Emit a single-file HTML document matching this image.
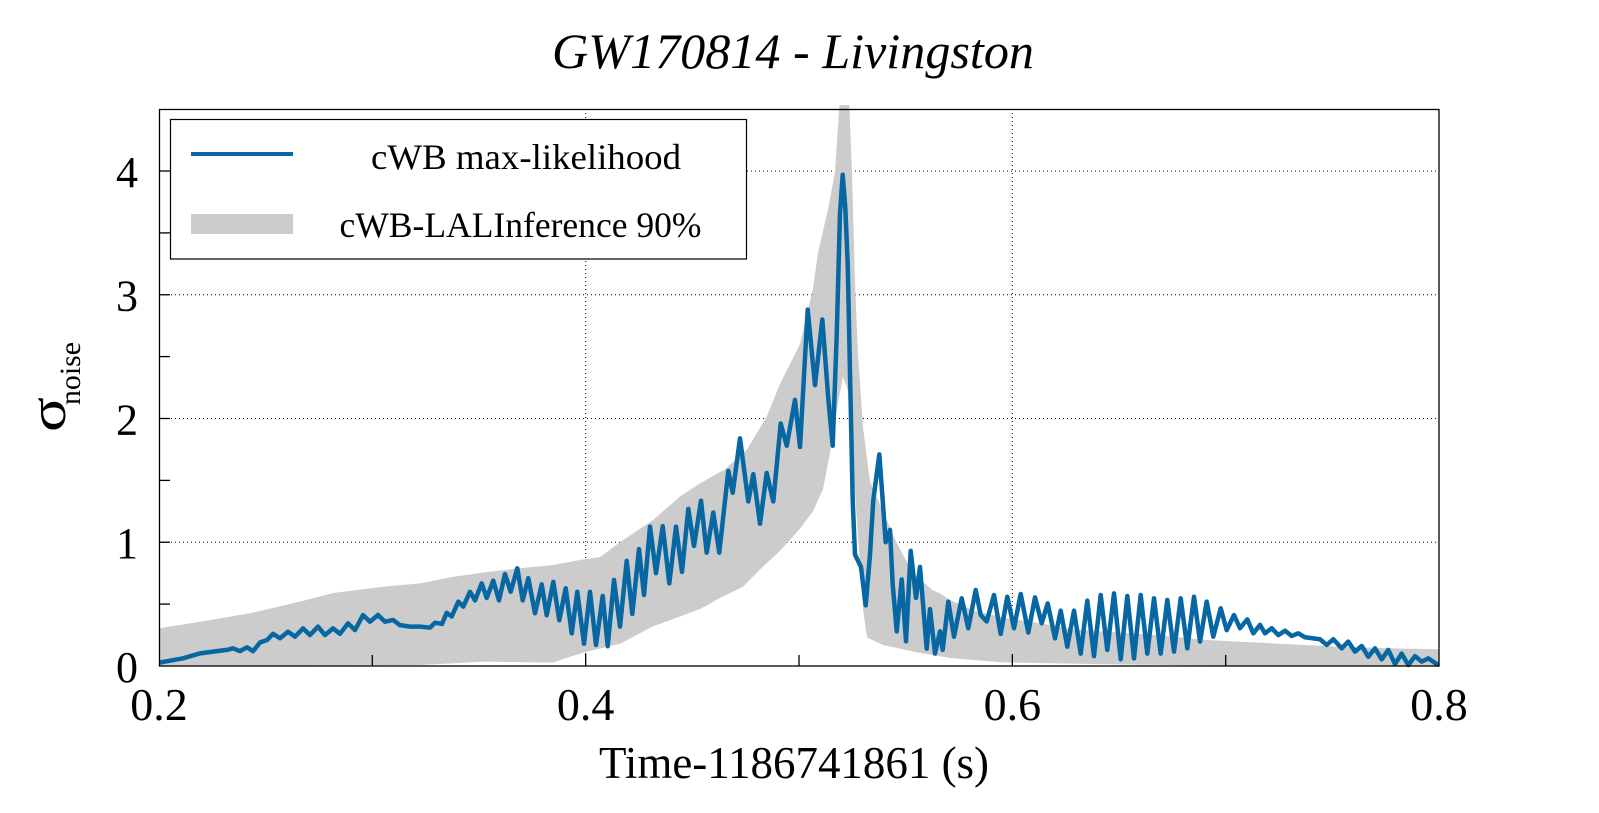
<!DOCTYPE html>
<html>
<head>
<meta charset="utf-8">
<style>
html,body{margin:0;padding:0;background:#fff;}
svg{display:block;}
text{font-family:"Liberation Serif","Times New Roman",serif;fill:#000;}
</style>
</head>
<body>
<svg width="1599" height="813" viewBox="0 0 1599 813" xmlns="http://www.w3.org/2000/svg">
<defs>
<clipPath id="c"><rect x="159" y="105" width="1280" height="563"/></clipPath>
</defs>
<rect x="0" y="0" width="1599" height="813" fill="#fff"/>

<!-- Title -->
<text x="552" y="68" font-size="50" font-style="italic" textLength="482" lengthAdjust="spacingAndGlyphs">GW170814 - Livingston</text>

<!-- grid -->
<g stroke="#000" stroke-width="1" stroke-dasharray="1 3" fill="none">
<line x1="159" y1="542.25" x2="1439" y2="542.25"/>
<line x1="159" y1="418.5" x2="1439" y2="418.5"/>
<line x1="159" y1="294.75" x2="1439" y2="294.75"/>
<line x1="159" y1="171" x2="1439" y2="171"/>
<line x1="585.67" y1="109" x2="585.67" y2="666"/>
<line x1="1012.33" y1="109" x2="1012.33" y2="666"/>
</g>

<g clip-path="url(#c)">
<g transform="matrix(1,0,0,-123.75,0,666)">
<polygon fill="#cccccc" stroke="none" points="159,0.305 200,0.358 250,0.426 300,0.52 333,0.59 383,0.64 420,0.668 453,0.72 487,0.76 520,0.79 553,0.816 580,0.857 600,0.88 620,1.0 653,1.18 680,1.37 700,1.476 725,1.59 747,1.75 767,2.02 780,2.28 800,2.6 813,3.05 818,3.34 828,3.69 835,3.99 840,4.6 849,4.6 852,3.99 855,3.1 858,2.52 863,1.93 870,1.49 883,1.25 897,0.99 913,0.75 933,0.61 940,0.587 950,0.533 973,0.45 1007,0.385 1040,0.345 1073,0.296 1107,0.277 1157,0.25 1207,0.21 1273,0.183 1340,0.156 1390,0.143 1439,0.135 1439,0 1200,0.005 1100,0.015 1000,0.03 950,0.065 917,0.11 883,0.17 867,0.23 863,0.46 858,1.05 853,1.64 848,2.22 843,2.34 837,2.08 830,1.72 823,1.43 813,1.25 800,1.11 780,0.93 760,0.78 743,0.64 720,0.55 700,0.46 680,0.4 653,0.32 620,0.18 587,0.116 570,0.075 553,0.027 487,0.035 420,0.008 159,0"/>
<polyline fill="none" stroke="#0767a3" stroke-width="4.5" stroke-linejoin="round" stroke-linecap="round" vector-effect="non-scaling-stroke" points="159.3,0.027 183,0.062 200,0.102 217,0.12 227,0.13 233,0.143 240,0.12 247,0.151 253,0.12 260,0.19 267,0.21 273,0.26 280,0.224 288,0.277 295,0.237 303,0.304 310,0.25 318,0.318 325,0.25 333,0.304 340,0.26 348,0.345 355,0.29 363,0.412 370,0.358 378,0.412 385,0.358 393,0.372 400,0.33 410,0.318 420,0.318 430,0.31 435,0.35 442,0.34 446.7,0.43 451.7,0.40 458.3,0.52 463.3,0.48 470,0.6 475,0.53 481.7,0.668 486.7,0.55 493.3,0.69 499,0.53 505,0.743 510.7,0.6 517.3,0.79 522.7,0.53 528.3,0.71 535,0.426 541.7,0.66 546.7,0.41 553.3,0.68 559.3,0.37 565.7,0.628 571.7,0.264 577.3,0.6 584,0.18 590,0.6 596,0.17 602.7,0.566 607.7,0.16 614,0.695 620,0.318 626.7,0.85 632.3,0.42 639,0.945 644,0.574 650,1.126 656,0.75 662.7,1.13 669.3,0.668 676,1.126 682,0.76 688.3,1.27 694,0.97 701,1.336 706.7,0.916 713.3,1.24 719.3,0.916 728.3,1.577 732.7,1.40 740,1.84 748.3,1.33 753.3,1.55 760,1.15 766.7,1.56 773.3,1.33 780.7,1.96 786.7,1.78 795,2.15 800,1.77 807.7,2.88 815,2.27 822.3,2.80 828.3,2.16 832.7,1.78 836.7,2.67 840,3.66 842.7,3.97 845.3,3.7 847.7,3.25 850,2.37 852.7,1.34 855,0.9 861,0.8 865.7,0.49 870,0.9 873.3,1.34 879.3,1.71 882.7,1.34 885.7,1.0 890,1.10 892.7,0.66 896.7,0.28 901.7,0.7 906,0.2 910.7,0.93 916,0.55 920,0.8 926.7,0.14 930,0.46 935,0.1 940,0.28 942.7,0.13 948.3,0.52 954,0.237 961.7,0.547 968.3,0.305 975.7,0.614 980.7,0.412 986.7,0.36 994,0.574 1000.7,0.259 1007.3,0.56 1014,0.305 1020.7,0.582 1028.3,0.27 1035,0.555 1041.7,0.345 1047.7,0.506 1055,0.223 1060.7,0.447 1067.3,0.156 1074,0.447 1080.7,0.1 1087.3,0.528 1094,0.08 1100.7,0.574 1107.3,0.13 1114,0.587 1120.7,0.054 1127.3,0.566 1134,0.062 1140.7,0.574 1147.3,0.1 1154,0.547 1160.7,0.1 1167.3,0.533 1174,0.116 1180.7,0.547 1187.3,0.143 1194,0.56 1200,0.197 1206.7,0.52 1213.3,0.237 1220.7,0.466 1226.7,0.29 1234,0.412 1240,0.305 1247.3,0.377 1253.3,0.264 1260,0.332 1265,0.264 1271.7,0.305 1278.3,0.25 1285,0.285 1291.7,0.243 1298.3,0.264 1305,0.232 1320,0.216 1326.7,0.17 1333.3,0.216 1341.7,0.143 1348.3,0.197 1355,0.116 1361.7,0.162 1368.3,0.075 1375,0.143 1381.7,0.054 1388.3,0.13 1395,0.016 1401.7,0.1 1408.3,0.008 1415,0.08 1421.7,0.035 1428.3,0.062 1436.7,0.016 1439,0.01"/>
</g>
</g>

<!-- frame -->
<rect x="159.5" y="109.5" width="1279.5" height="556.5" fill="none" stroke="#000" stroke-width="1.3"/>

<!-- ticks -->
<g stroke="#000" stroke-width="1.3">
<line x1="159" y1="604.1" x2="170" y2="604.1"/>
<line x1="159" y1="542.25" x2="170" y2="542.25"/>
<line x1="159" y1="480.4" x2="170" y2="480.4"/>
<line x1="159" y1="418.5" x2="170" y2="418.5"/>
<line x1="159" y1="356.6" x2="170" y2="356.6"/>
<line x1="159" y1="294.75" x2="170" y2="294.75"/>
<line x1="159" y1="232.9" x2="170" y2="232.9"/>
<line x1="159" y1="171" x2="170" y2="171"/>
<line x1="372.3" y1="666" x2="372.3" y2="655"/>
<line x1="585.67" y1="666" x2="585.67" y2="654"/>
<line x1="799" y1="666" x2="799" y2="655"/>
<line x1="1012.33" y1="666" x2="1012.33" y2="654"/>
<line x1="1225.7" y1="666" x2="1225.7" y2="655"/>
</g>

<!-- y tick labels -->
<g font-size="44" text-anchor="end">
<text x="138" y="682">0</text>
<text x="138" y="558">1</text>
<text x="138" y="434.5">2</text>
<text x="138" y="310.5">3</text>
<text x="138" y="187">4</text>
</g>

<!-- x tick labels -->
<g font-size="46" text-anchor="middle">
<text x="159" y="720">0.2</text>
<text x="585.67" y="720">0.4</text>
<text x="1012.33" y="720">0.6</text>
<text x="1439" y="720">0.8</text>
</g>

<!-- axis titles -->
<text x="599" y="778" font-size="45" textLength="390" lengthAdjust="spacingAndGlyphs">Time-1186741861 (s)</text>
<text transform="translate(65,432) rotate(-90)" font-size="52" textLength="35" lengthAdjust="spacingAndGlyphs">σ</text>
<text transform="translate(80,405) rotate(-90)" font-size="30" textLength="63" lengthAdjust="spacingAndGlyphs">noise</text>

<!-- legend -->
<rect x="170.5" y="119.5" width="576" height="139.5" fill="#fff" stroke="#000" stroke-width="1.2"/>
<line x1="191" y1="154" x2="293" y2="154" stroke="#0767a3" stroke-width="4"/>
<rect x="191" y="214" width="102" height="20" fill="#cccccc"/>
<text x="371" y="169" font-size="36" textLength="310" lengthAdjust="spacingAndGlyphs">cWB max-likelihood</text>
<text x="339.5" y="237" font-size="36" textLength="362" lengthAdjust="spacingAndGlyphs">cWB-LALInference 90%</text>
</svg>
</body>
</html>
